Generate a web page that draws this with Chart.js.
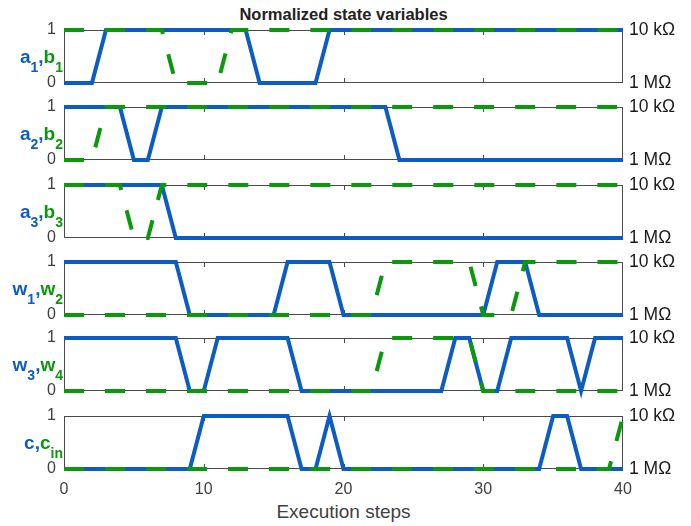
<!DOCTYPE html>
<html>
<head>
<meta charset="utf-8">
<title>Normalized state variables</title>
<script src="https://cdn.jsdelivr.net/npm/chart.js@4.4.1/dist/chart.umd.min.js"></script>
<style>
    body { margin: 0; background: #fff; font-family: "Liberation Sans", Arial, sans-serif; }
    #wrap { position: relative; width: 691px; height: 526px; overflow: hidden; }
    #wrap canvas { position: absolute; left: 0; }
    .title { position: absolute; left: 64px; width: 559px; top: 5px; text-align: center;
             font-weight: bold; font-size: 16.5px; line-height: 18px; color: #222; }
    .xtitle { position: absolute; left: 64px; width: 559px; top: 502px; text-align: center;
              font-size: 19px; line-height: 19px; color: #404040; }
    .lab { position: absolute; right: 628px; font-weight: bold; font-size: 19px;
           white-space: nowrap; line-height: 18px; }
    .lab .s { font-size: 14px; position: relative; top: 9px; }
    .blue { color: #0b5cc4; }
    .green { color: #0a990a; }
</style>
</head>
<body>
<div id="wrap">
    <div class="title">Normalized state variables</div>
    <div class="xtitle">Execution steps</div>
</div>
<script>
// ============================================
// data - one value per execution step
// ============================================
const steps = [0, 1, 2, 3, 4, 5, 6, 7, 8, 9, 10, 11, 12, 13, 14, 15, 16, 17, 18, 19, 20,
               21, 22, 23, 24, 25, 26, 27, 28, 29, 30, 31, 32, 33, 34, 35, 36, 37, 38, 39, 40];

//            0  1  2  3  4  5  6  7  8  9 10 11 12 13 14 15 16 17 18 19 20 21 22 23 24 25 26 27 28 29 30 31 32 33 34 35 36 37 38 39 40
const a1  = [0, 0, 0, 1, 1, 1, 1, 1, 1, 1, 1, 1, 1, 1, 0, 0, 0, 0, 0, 1, 1, 1, 1, 1, 1, 1, 1, 1, 1, 1, 1, 1, 1, 1, 1, 1, 1, 1, 1, 1, 1];
const b1  = [1, 1, 1, 1, 1, 1, 1, 1, 0, 0, 0, 0, 1, 1, 1, 1, 1, 1, 1, 1, 1, 1, 1, 1, 1, 1, 1, 1, 1, 1, 1, 1, 1, 1, 1, 1, 1, 1, 1, 1, 1];
const a2  = [1, 1, 1, 1, 1, 0, 0, 1, 1, 1, 1, 1, 1, 1, 1, 1, 1, 1, 1, 1, 1, 1, 1, 1, 0, 0, 0, 0, 0, 0, 0, 0, 0, 0, 0, 0, 0, 0, 0, 0, 0];
const b2  = [0, 0, 0, 1, 1, 1, 1, 1, 1, 1, 1, 1, 1, 1, 1, 1, 1, 1, 1, 1, 1, 1, 1, 1, 1, 1, 1, 1, 1, 1, 1, 1, 1, 1, 1, 1, 1, 1, 1, 1, 1];
const a3  = [1, 1, 1, 1, 1, 1, 1, 1, 0, 0, 0, 0, 0, 0, 0, 0, 0, 0, 0, 0, 0, 0, 0, 0, 0, 0, 0, 0, 0, 0, 0, 0, 0, 0, 0, 0, 0, 0, 0, 0, 0];
const b3  = [1, 1, 1, 1, 1, 0, 0, 1, 1, 1, 1, 1, 1, 1, 1, 1, 1, 1, 1, 1, 1, 1, 1, 1, 1, 1, 1, 1, 1, 1, 1, 1, 1, 1, 1, 1, 1, 1, 1, 1, 1];
const w1  = [1, 1, 1, 1, 1, 1, 1, 1, 1, 0, 0, 0, 0, 0, 0, 0, 1, 1, 1, 1, 0, 0, 0, 0, 0, 0, 0, 0, 0, 0, 0, 1, 1, 1, 0, 0, 0, 0, 0, 0, 0];
const w2  = [0, 0, 0, 0, 0, 0, 0, 0, 0, 0, 0, 0, 0, 0, 0, 0, 0, 0, 0, 0, 0, 0, 0, 1, 1, 1, 1, 1, 1, 1, 0, 0, 0, 1, 1, 1, 1, 1, 1, 1, 1];
const w3  = [1, 1, 1, 1, 1, 1, 1, 1, 1, 0, 0, 1, 1, 1, 1, 1, 1, 0, 0, 0, 0, 0, 0, 0, 0, 0, 0, 0, 1, 1, 0, 0, 1, 1, 1, 1, 1, 0, 1, 1, 1];
const w4  = [0, 0, 0, 0, 0, 0, 0, 0, 0, 0, 0, 0, 0, 0, 0, 0, 0, 0, 0, 0, 0, 0, 0, 1, 1, 1, 1, 1, 1, 1, 0, 0, 0, 0, 0, 0, 0, 0, 0, 0, 0];
const c   = [0, 0, 0, 0, 0, 0, 0, 0, 0, 0, 1, 1, 1, 1, 1, 1, 1, 0, 0, 1, 0, 0, 0, 0, 0, 0, 0, 0, 0, 0, 0, 0, 0, 0, 0, 1, 1, 0, 0, 0, 0];
const cin = [0, 0, 0, 0, 0, 0, 0, 0, 0, 0, 0, 0, 0, 0, 0, 0, 0, 0, 0, 0, 0, 0, 0, 0, 0, 0, 0, 0, 0, 0, 0, 0, 0, 0, 0, 0, 0, 0, 0, 0, 1];

const xTicks = [0, 10, 20, 30, 40];
const leftTicks = [0, 1];
const rightTickLabels = { 0: '1 M\u03A9', 1: '10 k\u03A9' };

// panel labels: [blue name, blue sub, green name, green sub]
const panelLabels = [
    ['a', '1', 'b', '1'],
    ['a', '2', 'b', '2'],
    ['a', '3', 'b', '3'],
    ['w', '1', 'w', '2'],
    ['w', '3', 'w', '4'],
    ['c', '', 'c', 'in']
];
const blueSeries = [a1, a2, a3, w1, w3, c];
const greenSeries = [b1, b2, b3, w2, w4, cin];

// ============================================
// layout
// ============================================
const BLUE = '#0b5cc4';
const GREEN = '#0a990a';
const FRAME = '#4a4a4a';
const panelTops = [30, 107, 185, 262, 338, 416];
const PANEL_H = 53;
const PAD = 11;
const XAXIS_H = 34;

// box + inward tick marks, drawn under the lines
const framePlugin = {
    id: 'frame',
    beforeDatasetsDraw(chart) {
        const { ctx, chartArea: a } = chart;
        const x = chart.scales.x;
        ctx.save();
        ctx.strokeStyle = FRAME;
        ctx.lineWidth = 1;
        ctx.strokeRect(a.left + 0.5, a.top + 0.5, a.right - a.left - 1, a.bottom - a.top - 1);
        ctx.beginPath();
        xTicks.forEach(v => {
            if (v === x.min || v === x.max) return;
            const px = Math.round(x.getPixelForValue(v)) + 0.5;
            ctx.moveTo(px, a.top);
            ctx.lineTo(px, a.top + 5);
            ctx.moveTo(px, a.bottom);
            ctx.lineTo(px, a.bottom - 5);
        });
        ctx.stroke();
        ctx.restore();
    }
};

// keep tick-label overflow from shrinking the plot area
function noPadding(s) {
    s.paddingTop = 0;
    s.paddingBottom = 0;
    s.paddingLeft = 0;
    s.paddingRight = 0;
}

const wrap = document.getElementById('wrap');

panelLabels.forEach((lab, i) => {
    const isLast = i === panelLabels.length - 1;
    const top = panelTops[i];

    const canvas = document.createElement('canvas');
    const h = PAD + PANEL_H + (isLast ? XAXIS_H : PAD);
    canvas.width = 691;
    canvas.height = h;
    canvas.style.top = (top - PAD) + 'px';
    canvas.style.width = '691px';
    canvas.style.height = h + 'px';
    wrap.appendChild(canvas);

    // left label like a_1,b_1
    const div = document.createElement('div');
    div.className = 'lab';
    div.style.top = (top + PANEL_H / 2 - 9) + 'px';
    div.innerHTML =
        `<span class="blue">${lab[0]}<span class="s">${lab[1]}</span>,</span>` +
        `<span class="green">${lab[2]}<span class="s">${lab[3]}</span></span>`;
    wrap.appendChild(div);

    new Chart(canvas, {
        type: 'line',
        data: {
            labels: steps,
            datasets: [{
                // green drawn on top of blue
                data: greenSeries[i],
                borderColor: GREEN,
                borderWidth: 4,
                borderDash: [20, 21],
                pointRadius: 0,
                tension: 0,
                clip: false
            }, {
                data: blueSeries[i],
                borderColor: BLUE,
                borderWidth: 4,
                pointRadius: 0,
                tension: 0,
                clip: false
            }]
        },
        options: {
            responsive: false,
            animation: false,
            events: [],
            layout: { padding: { top: PAD, bottom: isLast ? 0 : PAD, left: 0, right: 0 } },
            plugins: {
                legend: { display: false },
                tooltip: { enabled: false }
            },
            scales: {
                x: {
                    type: 'linear',
                    min: 0,
                    max: 40,
                    display: isLast,
                    grid: { display: false, drawTicks: false },
                    border: { display: false },
                    afterFit: (s) => {
                        noPadding(s);
                        if (isLast) s.height = XAXIS_H;
                    },
                    afterBuildTicks: (s) => { s.ticks = xTicks.map(v => ({ value: v })); },
                    ticks: {
                        padding: 11,
                        maxRotation: 0,
                        autoSkip: false,
                        color: '#404040',
                        font: { family: 'Liberation Sans', size: 16 }
                    }
                },
                y: {
                    position: 'left',
                    min: 0,
                    max: 1,
                    grid: { display: false, drawTicks: false },
                    border: { display: false },
                    afterFit: (s) => { noPadding(s); s.width = 64; },
                    afterBuildTicks: (s) => { s.ticks = leftTicks.map(v => ({ value: v })); },
                    ticks: {
                        padding: 8,
                        color: '#404040',
                        font: { family: 'Liberation Sans', size: 16 }
                    }
                },
                y2: {
                    position: 'right',
                    min: 0,
                    max: 1,
                    grid: { display: false, drawTicks: false },
                    border: { display: false },
                    afterFit: (s) => { noPadding(s); s.width = 68; },
                    afterBuildTicks: (s) => { s.ticks = leftTicks.map(v => ({ value: v })); },
                    ticks: {
                        padding: 6,
                        color: '#1a1a1a',
                        font: { family: 'Liberation Sans', size: 17.5 },
                        callback: (v) => rightTickLabels[v]
                    }
                }
            }
        },
        plugins: [framePlugin]
    });
});
</script>
</body>
</html>
